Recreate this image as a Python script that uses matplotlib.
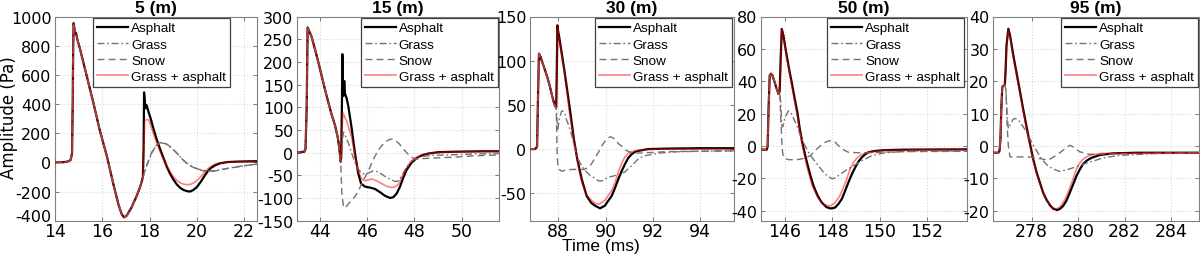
import matplotlib
matplotlib.use("Agg")
import matplotlib.pyplot as plt
import matplotlib.transforms as mtransforms
import numpy as np

plt.rcParams["axes.unicode_minus"] = False

# ---------------- data (time in ms, amplitude in Pa) ----------------
DISTANCES = ["5 (m)", "15 (m)", "30 (m)", "50 (m)", "95 (m)"]
LABELS = ["Asphalt", "Grass", "Snow", "Grass + asphalt"]

# --- 5 m ---
COMMON_5 = [(14.0, 0), (14.3, 1), (14.5, 4), (14.6, 10), (14.66, 16), (14.72, 60), (14.75, 400),
            (14.77, 800), (14.79, 955), (14.82, 920), (14.85, 891), (14.89, 887), (14.95, 840),
            (15.06, 777), (15.34, 594), (15.62, 411), (15.9, 217), (16.19, 46), (16.47, -149),
            (16.68, -286), (16.82, -354), (16.92, -377), (17.03, -366), (17.24, -309),
            (17.46, -229), (17.6, -170), (17.67, -133)]
ASPHALT_5 = [(17.72, -100), (17.75, 100), (17.77, 480), (17.8, 420), (17.82, 370), (17.86, 395),
             (17.9, 380), (17.96, 345), (18.05, 300), (18.16, 235), (18.3, 160), (18.44, 95),
             (18.58, 35), (18.72, -25), (18.86, -75), (19.0, -115), (19.15, -150), (19.3, -175),
             (19.45, -190), (19.6, -198), (19.72, -200), (19.85, -190), (20.0, -170),
             (20.15, -138), (20.3, -100), (20.45, -65), (20.6, -38), (20.8, -18), (21.0, -6),
             (21.3, 2), (21.7, 5), (22.2, 7), (22.7, 8)]
GRASS_5 = [(17.8, -62), (17.95, 6), (18.1, 66), (18.25, 106), (18.4, 128), (18.52, 133),
           (18.65, 129), (18.8, 116), (19.0, 88), (19.2, 55), (19.4, 20), (19.6, -8), (19.8, -28),
           (20.0, -43), (20.25, -55), (20.5, -60), (20.75, -58), (21.0, -51), (21.3, -41),
           (21.6, -33), (22.0, -23), (22.4, -15), (22.7, -10)]
SNOW_5 = [(17.8, -60), (17.95, 10), (18.1, 70), (18.25, 110), (18.4, 132), (18.52, 137),
          (18.65, 132), (18.8, 118), (19.0, 90), (19.2, 57), (19.4, 20), (19.6, -10), (19.8, -30),
          (20.0, -45), (20.25, -57), (20.5, -62), (20.75, -60), (21.0, -52), (21.3, -42),
          (21.6, -34), (22.0, -24), (22.4, -15), (22.7, -10)]
MIXED_5 = [(17.72, -100), (17.76, 100), (17.8, 285), (17.9, 295), (17.96, 290), (18.05, 255),
           (18.16, 200), (18.3, 137), (18.44, 75), (18.58, 25), (18.72, -20), (18.86, -60),
           (19.0, -95), (19.15, -122), (19.3, -140), (19.45, -150), (19.6, -153), (19.75, -150),
           (19.9, -138), (20.05, -118), (20.2, -92), (20.35, -65), (20.5, -40), (20.7, -18),
           (20.9, -7), (21.2, 0), (21.6, 3), (22.2, 4), (22.7, 5)]

# --- 15 m ---
COMMON_15 = [(42.9, 0), (43.34, 2), (43.39, 8), (43.44, 100), (43.48, 276), (43.53, 270),
             (43.65, 255), (43.79, 228), (43.93, 200), (44.07, 170), (44.21, 140), (44.35, 112),
             (44.49, 85), (44.64, 60), (44.75, 35), (44.82, 10)]
ASPHALT_15 = [(44.88, -20), (44.9, -10), (44.93, 100), (44.95, 217), (44.97, 140), (45.0, 125),
              (45.03, 158), (45.06, 130), (45.13, 120), (45.2, 103), (45.34, 55), (45.48, 0),
              (45.62, -45), (45.74, -68), (45.91, -75), (46.12, -77), (46.33, -80), (46.54, -87),
              (46.75, -95), (46.97, -100), (47.11, -98), (47.25, -90), (47.39, -75),
              (47.53, -55), (47.67, -38), (47.88, -22), (48.1, -12), (48.31, -6), (48.59, -2),
              (49.01, 1), (49.72, 2), (50.85, 3), (51.7, 3)]
GRASS_15 = [(44.88, -20), (44.9, -10), (44.93, 0), (44.97, 35), (45.0, 45), (45.06, 40),
            (45.13, 30), (45.2, 22), (45.34, 0), (45.48, -22), (45.62, -36), (45.76, -45),
            (45.9, -48), (46.05, -45), (46.26, -40), (46.45, -42), (46.61, -47), (46.82, -55),
            (47.04, -60), (47.2, -64), (47.32, -62), (47.46, -52), (47.6, -38), (47.74, -28),
            (47.9, -18), (48.1, -12), (48.4, -8), (48.73, -6), (49.5, -5), (50.5, -3),
            (51.7, -2)]
SNOW_15 = [(44.88, -25), (44.93, -90), (45.0, -120), (45.06, -122), (45.13, -118), (45.2, -113),
           (45.34, -105), (45.48, -97), (45.62, -85), (45.76, -70), (45.9, -55), (46.05, -40),
           (46.2, -22), (46.33, -8), (46.47, 5), (46.61, 15), (46.75, 23), (46.9, 28),
           (47.04, 30), (47.2, 27), (47.35, 20), (47.5, 10), (47.67, 0), (47.81, -7),
           (47.95, -12), (48.1, -14), (48.4, -13), (48.8, -12), (49.2, -11), (49.72, -10),
           (50.5, -7), (51.7, -5)]
MIXED_15 = [(44.88, -20), (44.9, -10), (44.93, 40), (44.97, 88), (45.0, 85), (45.06, 77),
            (45.13, 70), (45.2, 58), (45.34, 35), (45.48, -5), (45.62, -40), (45.76, -57),
            (45.9, -62), (46.05, -60), (46.19, -58), (46.4, -62), (46.61, -68), (46.82, -74),
            (47.04, -77), (47.2, -75), (47.32, -70), (47.46, -55), (47.6, -40), (47.74, -27),
            (47.9, -17), (48.1, -10), (48.35, -4), (48.7, -1), (49.2, 1), (50.0, 2), (51.7, 3)]

# --- 30 m ---
COMMON_30 = [(86.7, 0), (87.0, 0), (87.05, 1), (87.1, 3), (87.14, 60), (87.18, 108), (87.25, 104),
             (87.35, 96), (87.44, 89), (87.55, 80), (87.65, 70), (87.72, 62), (87.8, 54),
             (87.86, 49), (87.91, 47)]
ASPHALT_30 = [(87.93, 80), (87.96, 140), (88.0, 132), (88.03, 128), (88.14, 109), (88.25, 90),
              (88.31, 79), (88.4, 62), (88.49, 45), (88.58, 27), (88.66, 11), (88.8, -11),
              (88.99, -34), (89.2, -53), (89.4, -61), (89.55, -64), (89.77, -67), (89.97, -64),
              (90.1, -59), (90.26, -53), (90.4, -44), (90.54, -34), (90.68, -25), (90.82, -17),
              (90.96, -10), (91.1, -6), (91.25, -3), (91.39, -2), (91.8, 0), (92.5, 0.5),
              (94.0, 1), (95.5, 1)]
GRASS_30 = [(87.95, 30), (87.97, 21), (88.05, 35), (88.14, 43), (88.2, 43), (88.28, 40),
            (88.35, 33), (88.49, 23), (88.6, 12), (88.7, 0), (88.85, -12), (88.99, -19),
            (89.2, -26), (89.35, -30), (89.55, -33), (89.7, -36), (89.85, -36), (89.97, -34),
            (90.1, -32), (90.4, -30), (90.6, -28), (90.82, -26), (91.0, -21), (91.1, -19),
            (91.39, -11), (91.6, -8), (91.95, -6), (92.3, -4.5), (93.0, -3), (94.0, -2.5),
            (95.5, -2)]
SNOW_30 = [(87.95, -5), (87.98, -20), (88.04, -23), (88.14, -25), (88.3, -24), (88.56, -23),
           (88.85, -23), (89.1, -23), (89.25, -21), (89.4, -17), (89.55, -10), (89.69, -4),
           (89.83, 3), (89.97, 9), (90.1, 12), (90.19, 14), (90.3, 13), (90.4, 11), (90.55, 6),
           (90.75, 2), (90.9, -2), (91.1, -4), (91.4, -4.5), (91.8, -4), (92.5, -3),
           (93.5, -2.5), (95.5, -2)]
MIXED_30 = [(87.93, 80), (87.96, 140), (88.0, 130), (88.03, 125), (88.14, 106), (88.25, 88),
            (88.31, 76), (88.4, 58), (88.45, 45), (88.6, 20), (88.7, 5), (88.85, -20),
            (89.0, -38), (89.2, -52), (89.4, -58), (89.6, -62), (89.75, -62), (89.97, -58),
            (90.1, -53), (90.26, -47), (90.4, -38), (90.54, -26), (90.68, -16), (90.82, -9),
            (90.96, -5), (91.1, -3), (91.5, -1), (92.0, 0), (95.5, 0)]

# --- 50 m ---
COMMON_50 = [(144.9, -2.3), (145.22, -2.3), (145.26, -0.3), (145.3, 22.7), (145.35, 43.7),
             (145.4, 44.7), (145.46, 43.7), (145.53, 40.7), (145.6, 37.3), (145.66, 34.7),
             (145.72, 32.1), (145.77, 33.7)]
ASPHALT_50 = [(145.81, 52.7), (145.86, 72.3), (145.93, 68.2), (146.0, 61.7), (146.07, 55.7),
              (146.18, 46.7), (146.28, 39.3), (146.4, 29.7), (146.52, 20.7), (146.62, 10.7),
              (146.73, 2.2), (146.85, -5.8), (146.96, -12.2), (147.08, -18.8), (147.2, -24.6),
              (147.38, -30.8), (147.55, -34.9), (147.75, -37.8), (147.91, -38.6),
              (148.02, -38.5), (148.12, -38.0), (148.26, -35.8), (148.4, -32.8),
              (148.54, -27.8), (148.68, -22.5), (148.83, -17.3), (148.97, -13.2),
              (149.1, -9.8), (149.25, -7.0), (149.4, -5.1), (149.53, -3.9), (149.8, -3.1),
              (150.2, -2.6), (151.0, -2.3), (153.8, -2.1)]
GRASS_50 = [(145.81, 27.7), (145.86, 12.7), (145.9, 11.7), (146.0, 17.7), (146.14, 21.7),
            (146.28, 19.7), (146.4, 15.7), (146.5, 12.5), (146.7, 4.3), (146.99, -3.9),
            (147.2, -8.3), (147.41, -12.2), (147.6, -15.8), (147.77, -18.3), (147.98, -20.3),
            (148.1, -19.8), (148.26, -18.3), (148.55, -15.3), (148.9, -12.2), (149.25, -9.1),
            (149.67, -6.0), (150.2, -4.3), (150.9, -3.5), (152.0, -3.1), (153.8, -3.1)]
SNOW_50 = [(145.83, 12.7), (145.88, -2.3), (145.93, -7.0), (146.14, -8.5), (146.4, -8.5),
           (146.6, -8.3), (146.78, -7.7), (147.07, -6.0), (147.34, -1.9), (147.63, 1.8),
           (147.83, 3.1), (147.98, 3.3), (148.1, 2.7), (148.19, 1.2), (148.4, -1.9),
           (148.68, -3.9), (149.25, -4.3), (150.2, -3.9), (151.0, -3.5), (153.8, -3.3)]
MIXED_50 = [(145.81, 52.7), (145.86, 72.3), (145.93, 68.2), (146.0, 61.7), (146.07, 54.7),
            (146.28, 37.7), (146.52, 18.7), (146.7, 2.2), (146.95, -14.3), (147.15, -24.6),
            (147.4, -32.3), (147.6, -36.1), (147.8, -36.9), (147.95, -36.9), (148.1, -35.3),
            (148.3, -31.3), (148.45, -26.3), (148.6, -20.8), (148.75, -14.3), (148.9, -10.1),
            (149.05, -7.3), (149.2, -5.6), (149.4, -4.3), (149.7, -3.3), (150.3, -2.6),
            (153.8, -2.1)]

# --- 95 m ---
COMMON_95 = [(276.3, -2.1), (276.57, -2.1), (276.62, -1.5), (276.66, 2), (276.7, 12),
             (276.74, 18.3), (276.8, 18.6), (276.85, 19)]
ASPHALT_95 = [(276.88, 23), (276.92, 31), (277.0, 36.2), (277.07, 34.3), (277.21, 28.1),
              (277.43, 19.6), (277.64, 11.3), (277.86, 3.1), (278.07, -4.1), (278.21, -8.0),
              (278.36, -11.4), (278.5, -14.5), (278.64, -16.6), (278.8, -18.4), (278.93, -19.4),
              (279.1, -19.8), (279.23, -19.4), (279.36, -18.5), (279.5, -16.9), (279.64, -14.5),
              (279.79, -11.8), (279.93, -9.3), (280.07, -7.3), (280.21, -5.6), (280.4, -4.4),
              (280.57, -3.7), (280.93, -2.8), (281.5, -2.3), (282.5, -2.1), (285.3, -2.1)]
GRASS_95 = [(276.9, 17), (276.95, 9), (277.0, 5.4), (277.1, 6.8), (277.2, 8.2), (277.29, 8.5),
            (277.4, 8.2), (277.5, 7.4), (277.79, 4.3), (278.07, 0.2), (278.43, -4),
            (278.7, -6.2), (278.93, -7.1), (279.21, -7.9), (279.64, -7.1), (280.07, -6),
            (280.5, -5), (281.07, -3.7), (281.79, -2.9), (283.21, -2.4), (285.3, -2.1)]
SNOW_95 = [(276.9, 17), (276.95, 6), (277.0, 0), (277.07, -3.4), (277.5, -3.4), (277.93, -3.4),
           (278.36, -3.9), (278.71, -4.4), (279.07, -2.9), (279.43, -0.9), (279.64, 0.2),
           (279.79, -0.3), (280.07, -1.8), (280.5, -2.6), (281.79, -2.4), (285.3, -2.1)]
MIXED_95 = [(276.88, 23), (276.92, 31), (277.0, 35.9), (277.07, 34.0), (277.21, 27.5),
            (277.43, 19.0), (277.64, 10.8), (277.86, 2.6), (278.07, -4.5), (278.36, -11.8),
            (278.64, -16.8), (278.93, -19.3), (279.07, -19.4), (279.2, -19.0), (279.36, -17.5),
            (279.5, -15.5), (279.64, -13.0), (279.79, -10.0), (279.93, -7.1), (280.07, -5.3),
            (280.21, -4.1), (280.4, -3.2), (280.57, -2.8), (281.0, -2.3), (285.3, -2.1)]

X_TICKS = [[14, 16, 18, 20, 22], [44, 46, 48, 50], [88, 90, 92, 94],
           [146, 148, 150, 152], [278, 280, 282, 284]]
Y_TICKS = [[-400, -200, 0, 200, 400, 600, 800, 1000],
           [-150, -100, -50, 0, 50, 100, 150, 200, 250, 300],
           [-50, 0, 50, 100, 150],
           [-40, -20, 0, 20, 40, 60, 80],
           [-20, -10, 0, 10, 20, 30, 40]]

PANELS = [
    (COMMON_5, ASPHALT_5, GRASS_5, SNOW_5, MIXED_5),
    (COMMON_15, ASPHALT_15, GRASS_15, SNOW_15, MIXED_15),
    (COMMON_30, ASPHALT_30, GRASS_30, SNOW_30, MIXED_30),
    (COMMON_50, ASPHALT_50, GRASS_50, SNOW_50, MIXED_50),
    (COMMON_95, ASPHALT_95, GRASS_95, SNOW_95, MIXED_95),
]

# ---------------- layout / style ----------------
W, H = 1200, 255
AX_PX = [(55, 257), (297, 499), (530, 734), (761, 967), (993, 1199)]
AX_TOP, AX_BOT = 17.5, 221.7
XLIMS = [(14, 22.55), (43.03, 51.58), (86.8, 95.44), (144.98, 153.7), (276.34, 285.2)]
YLIMS = [(-400, 1000), (-150, 300), (-81, 150), (-46.2, 80), (-23.1, 40)]
LEG_X = [0.866, 0.994, 0.989, 0.985, 0.995]

STYLES = [
    dict(color="black", lw=1.6, ls="-", zorder=3),
    dict(color="0.45", lw=1.0, ls=(0, (5, 2, 1.2, 2)), zorder=4),
    dict(color="0.45", lw=1.0, ls=(0, (5, 3)), zorder=4),
    dict(color=(1, 0, 0, 0.5), lw=1.2, ls="-", zorder=5),
]

fig = plt.figure(figsize=(W / 100, H / 100), dpi=100)

for i, (common, *curves) in enumerate(PANELS):
    l, r = AX_PX[i]
    ax = fig.add_axes([l / W, (H - AX_BOT) / H, (r - l) / W, (AX_BOT - AX_TOP) / H])
    c = np.array(common, dtype=float)
    for j, (cur, st) in enumerate(zip(curves, STYLES)):
        d = np.vstack([c, np.array(cur, dtype=float)])
        ax.plot(d[:, 0], d[:, 1], color=st["color"], lw=st["lw"], ls=st["ls"],
                zorder=st["zorder"], label=LABELS[j])
    ax.set_xlim(*XLIMS[i])
    ax.set_ylim(*YLIMS[i])
    ax.set_xticks(X_TICKS[i])
    ax.set_yticks(Y_TICKS[i])
    ax.grid(True, color="0.85", ls=":", lw=0.8)
    ax.set_axisbelow(True)
    for sp in ax.spines.values():
        sp.set_color("0.5")
        sp.set_linewidth(0.8)
    ax.tick_params(direction="in", length=3, width=0.6, color="0.4", top=True, right=True)
    ax.tick_params(axis="x", labelsize=12.5, pad=1.0)
    ax.tick_params(axis="y", labelsize=11.5, pad=2.5)
    for lab in ax.get_xticklabels() + ax.get_yticklabels():
        lab.set_family("DejaVu Sans")
    if i == 0:
        # the lowest amplitude label sits a little above the axis corner in the reference
        low = ax.get_yticklabels()[0]
        low.set_transform(low.get_transform() +
                          mtransforms.ScaledTranslation(0, 6 / 100, fig.dpi_scale_trans))
    ax.text(0.5, 1.043, DISTANCES[i], transform=ax.transAxes, ha="center", va="center",
            fontsize=12.5, fontweight="bold", family="Liberation Sans")
    leg = ax.legend(loc="upper right", bbox_to_anchor=(LEG_X[i], 0.993), borderaxespad=0,
                    prop=dict(family="Liberation Sans", size=9.7), handlelength=2.3,
                    handletextpad=0.2, borderpad=0.3, labelspacing=0.28, fancybox=False,
                    framealpha=1, edgecolor="0.25")
    leg.get_frame().set_linewidth(0.9)
    leg.set_zorder(10)

fig.text(9 / W, 1 - 117.5 / H, "Amplitude (Pa)", rotation=90, ha="center", va="center",
         fontsize=12, family="DejaVu Sans")
fig.text(601 / W, 1 - 246.5 / H, "Time (ms)", ha="center", va="center",
         fontsize=12.5, family="Liberation Sans")

fig.savefig("out.png", dpi=100)
